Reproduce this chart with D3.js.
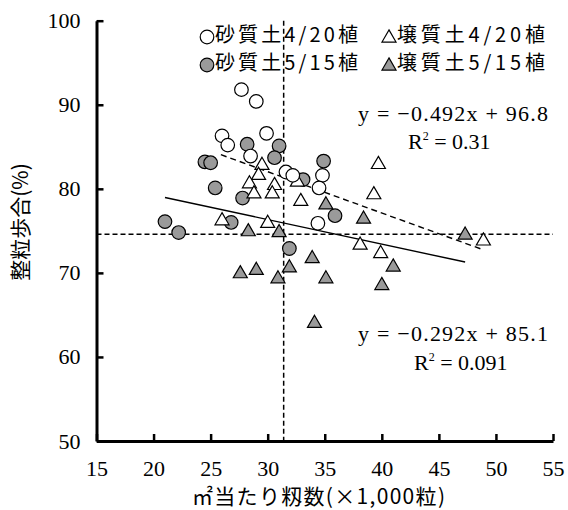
<!DOCTYPE html>
<html>
<head>
<meta charset="utf-8">
<script src="https://cdn.jsdelivr.net/npm/d3@7"></script>
<style>
  html, body { margin: 0; padding: 0; background: #fff; }
  svg { display: block; }
  text { font-family: "Liberation Serif", "Noto Sans CJK JP", serif; fill: #000; }
  .jp { font-family: "Noto Sans CJK JP", sans-serif; }
</style>
</head>
<body>
<svg id="chart" width="568" height="510"></svg>
<script>
// Sandy soil, planted 4/20 (open circles)
const sandy420X = [27.7, 29.0, 26.0, 26.5, 29.9, 28.5, 31.6, 32.2, 34.8, 34.5, 34.4];
const sandy420Y = [91.8, 90.4, 86.3, 85.2, 86.6, 83.9, 82.0, 81.6, 81.6, 80.1, 75.9];
// Loam soil, planted 4/20 (open triangles)
const loam420X = [29.5, 29.2, 28.4, 30.6, 28.8, 30.4, 32.6, 32.9, 26.0, 30.0, 39.7, 39.3, 38.1, 39.9, 48.9];
const loam420Y = [82.8, 81.6, 80.6, 80.4, 79.4, 79.4, 80.8, 78.5, 76.2, 75.9, 82.9, 79.3, 73.3, 72.3, 73.8];
// Sandy soil, planted 5/15 (grey circles)
const sandy515X = [28.2, 31.0, 30.6, 34.9, 33.1, 24.5, 25.0, 25.4, 27.8, 26.8, 21.0, 22.2, 31.9, 35.9];
const sandy515Y = [85.3, 85.1, 83.7, 83.3, 81.1, 83.2, 83.1, 80.1, 78.9, 76.0, 76.1, 74.8, 72.9, 76.8];
// Loam soil, planted 5/15 (grey triangles)
const loam515X = [35.1, 28.3, 31.0, 27.6, 29.0, 30.9, 31.9, 33.9, 38.4, 47.3, 41.0, 35.1, 40.0, 34.1];
const loam515Y = [78.1, 74.9, 74.8, 69.9, 70.3, 69.3, 70.6, 71.7, 76.4, 74.5, 70.7, 69.3, 68.5, 64.0];

const legendLabels = ["砂質土4/20植", "壌質土4/20植", "砂質土5/15植", "壌質土5/15植"];
const xTicks = [15, 20, 25, 30, 35, 40, 45, 50, 55];
const yTicks = [50, 60, 70, 80, 90, 100];

// Regression fits: 4/20 planting (dashed) and 5/15 planting (solid)
const fit420 = { slope: -0.492, intercept: 96.8, r2: "0.31", xMin: 25.9, xMax: 48.9 };
const fit515 = { slope: -0.292, intercept: 85.1, r2: "0.091", xMin: 21.0, xMax: 47.3 };
// Overall means shown as cross-hair reference lines
const meanX = 31.4;
const meanY = 74.6;

const svg = d3.select("#chart");
const x = d3.scaleLinear().domain([15, 55]).range([96.5, 553]);
const y = d3.scaleLinear().domain([50, 100]).range([441, 20.7]);

const GREY = "#9a9a9a";

// reference lines
svg.append("line")
  .attr("x1", x(meanX)).attr("x2", x(meanX))
  .attr("y1", y(100)).attr("y2", y(50))
  .attr("stroke", "#000").attr("stroke-width", 1.5).attr("stroke-dasharray", "5,3");
svg.append("line")
  .attr("x1", x(15)).attr("x2", x(55))
  .attr("y1", y(meanY)).attr("y2", y(meanY))
  .attr("stroke", "#000").attr("stroke-width", 1.5).attr("stroke-dasharray", "5,3");

// regression lines
function fitLine(f) {
  return [[f.xMin, f.slope * f.xMin + f.intercept], [f.xMax, f.slope * f.xMax + f.intercept]];
}
const line = d3.line().x(d => x(d[0])).y(d => y(d[1]));
svg.append("path").attr("d", line(fitLine(fit420)))
  .attr("fill", "none").attr("stroke", "#000").attr("stroke-width", 1.4).attr("stroke-dasharray", "6,4");
svg.append("path").attr("d", line(fitLine(fit515)))
  .attr("fill", "none").attr("stroke", "#000").attr("stroke-width", 1.4);

// points
const circleSym = d3.symbol().type(d3.symbolCircle).size(145);
const triSym = d3.symbol().type(d3.symbolTriangle).size(85);

function drawSeries(xs, ys, sym, fill) {
  svg.append("g").selectAll("path")
    .data(xs.map((v, i) => [v, ys[i]]))
    .join("path")
    .attr("d", sym)
    .attr("transform", d => `translate(${x(d[0])},${y(d[1])})`)
    .attr("fill", fill)
    .attr("stroke", "#000")
    .attr("stroke-width", 1.2);
}
drawSeries(loam515X, loam515Y, triSym, GREY);
drawSeries(sandy515X, sandy515Y, circleSym, GREY);
drawSeries(loam420X, loam420Y, triSym, "#fff");
drawSeries(sandy420X, sandy420Y, circleSym, "#fff");

// axes
const xAxis = d3.axisBottom(x).tickValues(xTicks).tickSizeInner(-7).tickSizeOuter(0).tickPadding(19);
const yAxis = d3.axisLeft(y).tickValues(yTicks).tickSizeInner(-7).tickSizeOuter(0).tickPadding(16);

const gx = svg.append("g").attr("transform", `translate(0,${y(50)})`).call(xAxis);
const gy = svg.append("g").attr("transform", `translate(${x(15)},0)`).call(yAxis);
[gx, gy].forEach(g => {
  g.select(".domain").attr("stroke-width", 3).attr("stroke", "#000");
  g.selectAll(".tick line").attr("stroke-width", 2.5).attr("stroke", "#000");
  g.selectAll(".tick text")
    .style("font-family", '"Liberation Serif", serif')
    .style("font-size", "22px").attr("fill", "#000");
});
gx.selectAll(".tick text").attr("dy", "0.71em");

// axis titles
svg.append("text").attr("class", "jp")
  .attr("x", 192).attr("y", 498).attr("dominant-baseline", "middle")
  .attr("textLength", 253).attr("lengthAdjust", "spacing")
  .style("font-size", "21px").text("㎡当たり籾数(×1,000粒)");
svg.append("text").attr("class", "jp")
  .attr("transform", "translate(22,222) rotate(-90)")
  .attr("text-anchor", "middle").attr("dominant-baseline", "middle")
  .style("font-size", "21px").text("整粒歩合(%)");

// equations
function eq(f) {
  return `y = −${Math.abs(f.slope).toFixed(3)}x + ${f.intercept.toFixed(1)}`;
}
function r2Label(sel, f) {
  sel.append("tspan").text("R");
  sel.append("tspan").attr("font-size", "12px").attr("dy", -9).text("2");
  sel.append("tspan").attr("dy", 9).text(` = ${f.r2}`);
}
svg.append("text").attr("x", 358).attr("y", 121)
  .attr("textLength", 190).attr("lengthAdjust", "spacing")
  .style("font-size", "22px").text(eq(fit420));
svg.append("text").attr("x", 408).attr("y", 149)
  .style("font-size", "22px").call(r2Label, fit420);
svg.append("text").attr("x", 358).attr("y", 341)
  .attr("textLength", 190).attr("lengthAdjust", "spacing")
  .style("font-size", "22px").text(eq(fit515));
svg.append("text").attr("x", 414).attr("y", 370)
  .style("font-size", "22px").call(r2Label, fit515);

// legend
const legendItems = [
  { sym: circleSym, fill: "#fff", lx: 207, ly: 37, w: 143 },
  { sym: triSym, fill: "#fff", lx: 389, ly: 37, w: 148 },
  { sym: circleSym, fill: GREY, lx: 207, ly: 65, w: 143 },
  { sym: triSym, fill: GREY, lx: 389, ly: 65, w: 148 }
];
legendItems.forEach((it, i) => {
  svg.append("path").attr("d", it.sym)
    .attr("transform", `translate(${it.lx},${it.ly + (it.sym === triSym ? 1 : 0)})`)
    .attr("fill", it.fill).attr("stroke", "#000").attr("stroke-width", 1.2);
  svg.append("text").attr("class", "jp")
    .attr("x", it.lx + 8).attr("y", it.ly).attr("dominant-baseline", "middle")
    .attr("textLength", it.w).attr("lengthAdjust", "spacing")
    .style("font-size", "20px").text(legendLabels[i]);
});
</script>
</body>
</html>
